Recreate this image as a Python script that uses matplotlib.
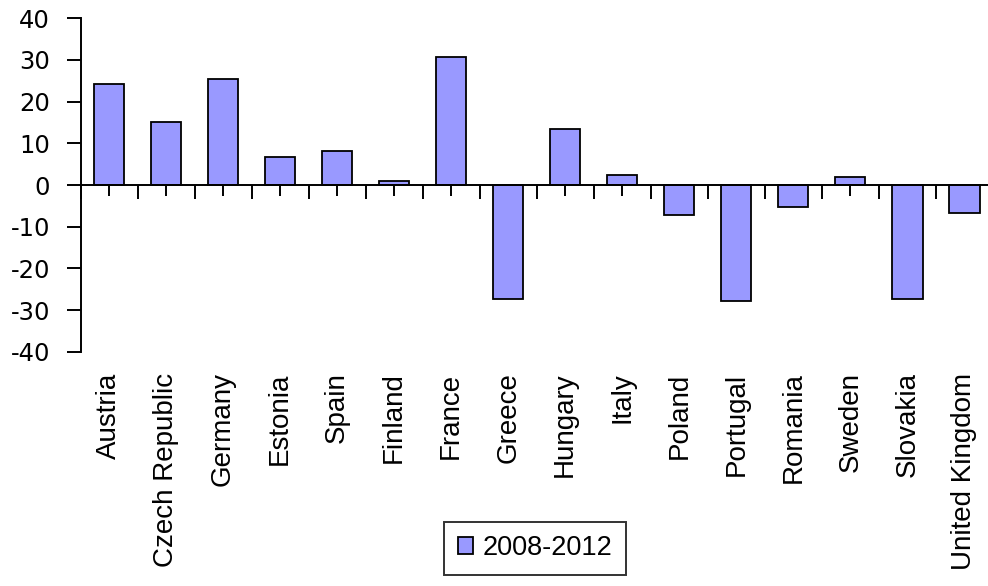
import matplotlib.pyplot as plt
from matplotlib.ticker import FixedLocator
from matplotlib.transforms import blended_transform_factory

plt.rcParams["axes.unicode_minus"] = False

countries = ["Austria", "Czech Republic", "Germany", "Estonia", "Spain", "Finland",
             "France", "Greece", "Hungary", "Italy", "Poland", "Portugal",
             "Romania", "Sweden", "Slovakia", "United Kingdom"]
values = [24.2, 15.0, 25.5, 6.8, 8.2, 1.0, 30.7, -27.3, 13.5, 2.4,
          -7.2, -27.9, -5.3, 2.0, -27.3, -6.7]
series_name = "2008-2012"
y_ticks = [-40, -30, -20, -10, 0, 10, 20, 30, 40]

fig = plt.figure(figsize=(9.88, 5.86), dpi=100)
ax = fig.add_axes([0.0815, 0.3998, 0.9235, 0.569])

x = list(range(len(countries)))
bars = ax.bar(x, values, width=0.53, color="#9999FF", edgecolor="black",
              linewidth=1.3, label=series_name, zorder=2)

ax.set_xlim(-0.5, len(countries) - 0.5)
ax.set_ylim(-40, 40)
ax.set_yticks(y_ticks)

# axis styling like the old spreadsheet chart
for side in ["top", "right"]:
    ax.spines[side].set_visible(False)
ax.spines["bottom"].set_position(("data", 0))
ax.spines["bottom"].set_zorder(3)
ax.spines["left"].set_linewidth(1.4)
ax.spines["bottom"].set_linewidth(1.4)

ax.xaxis.set_major_locator(FixedLocator(x))
ax.xaxis.set_minor_locator(FixedLocator([i - 0.5 for i in range(len(countries) + 1)]))
ax.tick_params(axis="x", which="major", direction="out", length=8, width=1.4,
               labelbottom=False)
ax.tick_params(axis="x", which="minor", direction="out", length=10, width=1.4)
ax.tick_params(axis="y", direction="out", length=10, width=1.4, labelsize=17.5,
               pad=12)

# category labels sit below the plot area
trans = blended_transform_factory(ax.transData, ax.transAxes)
for i, name in enumerate(countries):
    ax.text(i, -0.062, name, transform=trans, rotation=90, ha="center", va="top",
            fontsize=20, family="Liberation Sans")

leg = fig.legend(handles=[bars], labels=[series_name], loc="center",
                 bbox_to_anchor=(0.5415, 0.0645), frameon=True, fancybox=False,
                 edgecolor="black", handlelength=0.55, handleheight=0.55,
                 handletextpad=0.35, borderpad=0.5, borderaxespad=0,
                 prop={"family": "Liberation Sans", "size": 19.5})
leg.get_frame().set_linewidth(1.4)

fig.savefig("out.png", dpi=100)
